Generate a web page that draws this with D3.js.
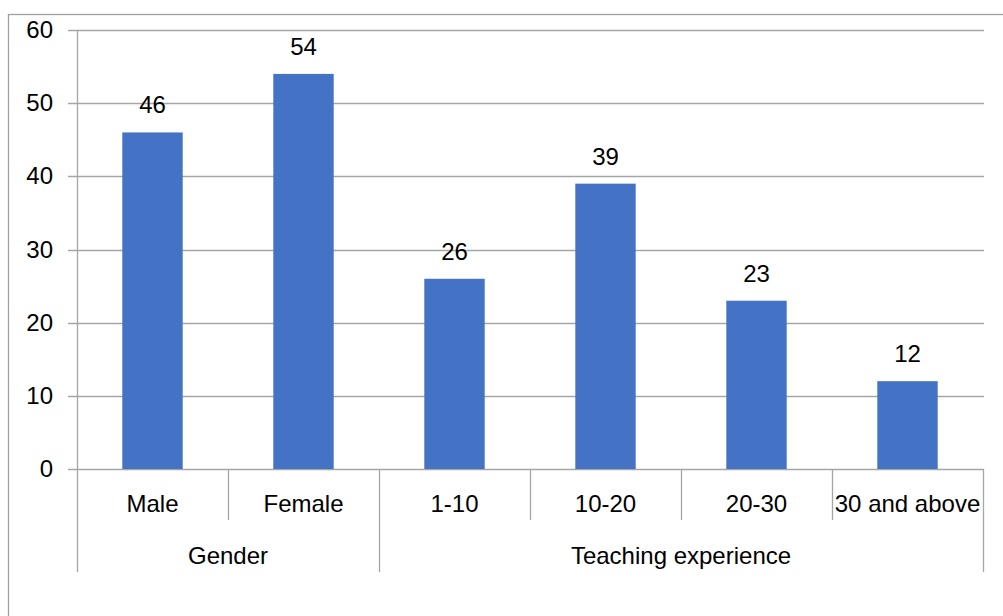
<!DOCTYPE html>
<html><head><meta charset="utf-8">
<script src="https://cdn.jsdelivr.net/npm/d3@7"></script>
<style>
html,body{margin:0;padding:0;background:#fff;}
svg{display:block;}
text{font-family:"Liberation Sans",Arial,sans-serif;fill:#000;}
</style></head>
<body>
<svg id="chart" width="1003" height="616"></svg>
<script>
const categories = ["Male","Female","1-10","10-20","20-30","30 and above"];
const groups = ["Gender","Gender","Teaching experience","Teaching experience","Teaching experience","Teaching experience"];
const groupNames = ["Gender","Teaching experience"];
const values = [46,54,26,39,23,12];
const yTicks = [0,10,20,30,40,50,60];

(function(){
const svg = d3.select("#chart");
const pLeft = 77, pRight = 983, pTop = 30, pBottom = 469;
const fs = 24;

// outer border
svg.append("rect").attr("x",8.5).attr("y",14.5).attr("width",1100).attr("height",700)
  .attr("fill","none").attr("stroke","#a0a0a0").attr("stroke-width",1.3);

const x = d3.scaleBand().domain(categories).range([pLeft,pRight]).paddingInner(0).paddingOuter(0);
const y = d3.scaleLinear().domain([0,60]).range([pBottom,pTop]);

// gridlines
svg.append("g").selectAll("line").data(yTicks).join("line")
  .attr("x1",68).attr("x2",pRight+1).attr("y1",d=>Math.round(y(d))+0.5).attr("y2",d=>Math.round(y(d))+0.5)
  .attr("stroke","#a6a6a6").attr("stroke-width",1.3);

// y labels
svg.append("g").selectAll("text").data(yTicks).join("text")
  .attr("x",53).attr("y",d=>y(d)).attr("dy","0.34em").attr("text-anchor","end")
  .attr("font-size",fs).text(d=>d);

// bars
const bw = x.bandwidth()*0.4;
svg.append("g").selectAll("rect").data(values).join("rect")
  .attr("x",(d,i)=>x(categories[i])+x.bandwidth()/2-bw/2)
  .attr("y",d=>y(d)).attr("width",bw).attr("height",d=>pBottom-y(d))
  .attr("fill","#4472C4");

// value labels
svg.append("g").selectAll("text").data(values).join("text")
  .attr("x",(d,i)=>x(categories[i])+x.bandwidth()/2)
  .attr("y",d=>y(d)-19).attr("text-anchor","middle").attr("font-size",fs).text(d=>d);

// axis line at left
const axisCol = "#a6a6a6";
svg.append("line").attr("x1",pLeft+0.5).attr("x2",pLeft+0.5).attr("y1",pTop).attr("y2",572)
  .attr("stroke",axisCol).attr("stroke-width",1.3);

// category separators
const bounds = categories.map(c=>x(c)).concat([pRight]);
bounds.forEach((b,i)=>{
  if(i===0) return;
  const isGroupEdge = i===categories.length || groups[i]!==groups[i-1];
  svg.append("line").attr("x1",b+0.5).attr("x2",b+0.5).attr("y1",pBottom).attr("y2",isGroupEdge?572:520)
    .attr("stroke",axisCol).attr("stroke-width",1.3);
});

// category labels
svg.append("g").selectAll("text").data(categories).join("text")
  .attr("x",c=>x(c)+x.bandwidth()/2).attr("y",512).attr("text-anchor","middle")
  .attr("font-size",fs).text(c=>c);

// group labels
groupNames.forEach(g=>{
  const cs = categories.filter((c,i)=>groups[i]===g);
  const x0 = x(cs[0]), x1 = x(cs[cs.length-1])+x.bandwidth();
  svg.append("text").attr("x",(x0+x1)/2).attr("y",564).attr("text-anchor","middle")
    .attr("font-size",fs).text(g);
});
})();
</script>
</body></html>
